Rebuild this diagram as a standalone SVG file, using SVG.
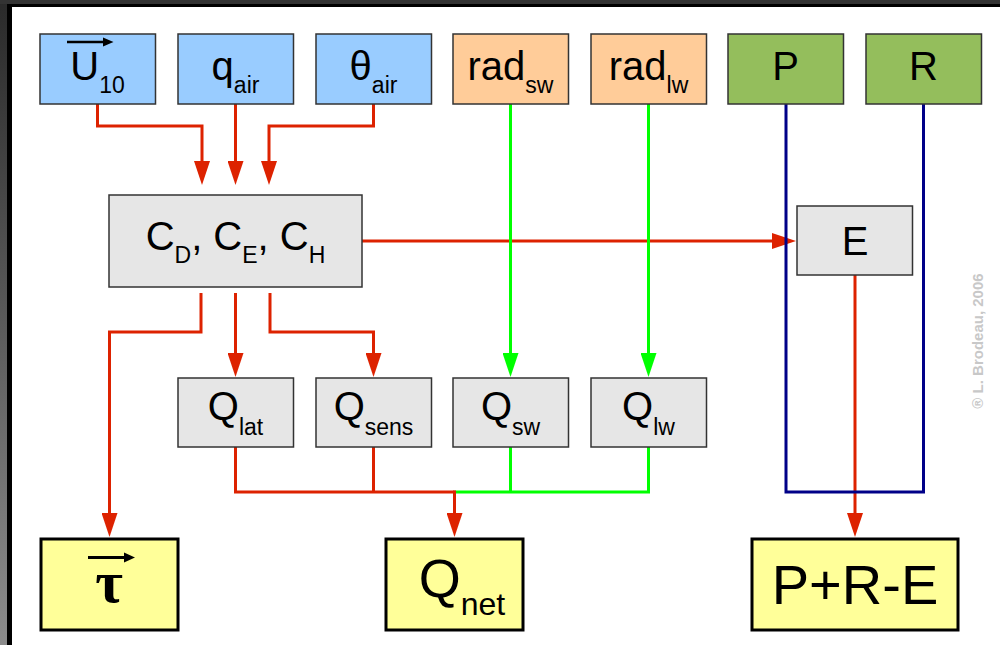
<svg xmlns="http://www.w3.org/2000/svg" width="1000" height="645" viewBox="0 0 1000 645">
<defs>
<linearGradient id="lg" x1="0" y1="0" x2="0" y2="1">
<stop offset="0" stop-color="#2a2a2a"/>
<stop offset="1" stop-color="#8c8c8c"/>
</linearGradient>
<marker id="ar" markerWidth="24" markerHeight="16" refX="4" refY="8" orient="auto" markerUnits="userSpaceOnUse"><path d="M0,0 L24,8 L0,16 z" fill="#dd2200"/></marker>
<marker id="ag" markerWidth="24" markerHeight="16" refX="4" refY="8" orient="auto" markerUnits="userSpaceOnUse"><path d="M0,0 L24,8 L0,16 z" fill="#00ff00"/></marker>
<style>
.t{font-family:"Liberation Sans",Arial,Helvetica,sans-serif;fill:#000;text-anchor:middle;font-size:40px}
.s{font-size:23px}
.box{stroke:#333;stroke-width:1.5}
.in{fill:#99ccff}
.rad{fill:#ffcc99}
.pr{fill:#94be5c}
.gr{fill:#e6e6e6}
.out{fill:#ffff99;stroke:#000;stroke-width:3}
.r{fill:none;stroke:#dd2200;stroke-width:3}
.g{fill:none;stroke:#00ff00;stroke-width:3}
.b{fill:none;stroke:#000088;stroke-width:3}
</style>
</defs>
<rect x="0" y="0" width="1000" height="645" fill="#fff"/>
<rect x="0" y="0" width="7" height="645" fill="url(#lg)"/>
<rect x="7" y="0" width="5" height="645" fill="#000"/>
<rect x="0" y="0" width="1000" height="4" fill="#333"/>
<rect x="7" y="4" width="993" height="3" fill="#000"/>

<g id="connectors">
<path class="r" d="M97.5,104 V126 H202 V165" marker-end="url(#ar)"/>
<path class="r" d="M235.5,104 V165" marker-end="url(#ar)"/>
<path class="r" d="M373.5,104 V126 H269 V165" marker-end="url(#ar)"/>
<path class="r" d="M362,241 H776" marker-end="url(#ar)"/>
<path class="r" d="M201,293 V332 H109.5 V517" marker-end="url(#ar)"/>
<path class="r" d="M235.5,293 V357" marker-end="url(#ar)"/>
<path class="r" d="M270,293 V332 H373.5 V357" marker-end="url(#ar)"/>
<path class="r" d="M235.5,447 V492 H454.5"/>
<path class="r" d="M373.5,447 V492"/>
<path class="g" d="M510.5,447 V492"/>
<path class="g" d="M648.5,447 V492 H454.5"/>
<path class="r" d="M454.5,490.5 V517" marker-end="url(#ar)"/>
<path class="r" d="M855,275 V517" marker-end="url(#ar)"/>
<path class="b" d="M786,104 V492 H923.5 V104"/>
<path class="g" d="M510.5,104 V357" marker-end="url(#ag)"/>
<path class="g" d="M648.5,104 V357" marker-end="url(#ag)"/>
</g>

<g id="n-u10">
<rect class="box in" x="40" y="34" width="115.5" height="70"/>
<path d="M67,42 H105" stroke="#000" stroke-width="2.5"/>
<path d="M103,37.5 L113.5,42 L103,46.5 z" fill="#000"/>
<text class="t" x="97.5" y="80">U<tspan class="s" dy="13">10</tspan></text>
</g>
<g id="n-qair">
<rect class="box in" x="178" y="34" width="115.5" height="70"/>
<text class="t" x="235.5" y="80">q<tspan class="s" dy="13">air</tspan></text>
</g>
<g id="n-thair">
<rect class="box in" x="316" y="34" width="115.5" height="70"/>
<text class="t" x="373.5" y="80">θ<tspan class="s" dy="13">air</tspan></text>
</g>
<g id="n-radsw">
<rect class="box rad" x="453" y="34" width="115.5" height="70"/>
<text class="t" x="510.5" y="80">rad<tspan class="s" dy="13">sw</tspan></text>
</g>
<g id="n-radlw">
<rect class="box rad" x="591" y="34" width="115.5" height="70"/>
<text class="t" x="648.5" y="80">rad<tspan class="s" dy="13">lw</tspan></text>
</g>
<g id="n-p">
<rect class="box pr" x="728" y="34" width="115.5" height="70"/>
<text class="t" x="785.5" y="80">P</text>
</g>
<g id="n-r">
<rect class="box pr" x="866" y="34" width="115.5" height="70"/>
<text class="t" x="923.5" y="80">R</text>
</g>

<g id="n-coef">
<rect class="box gr" x="109" y="195" width="253" height="92"/>
<text class="t" x="235.5" y="250">C<tspan class="s" dy="13">D</tspan><tspan dy="-13">, C</tspan><tspan class="s" dy="13">E</tspan><tspan dy="-13">, C</tspan><tspan class="s" dy="13">H</tspan></text>
</g>
<g id="n-e">
<rect class="box gr" x="797" y="206" width="115.5" height="69"/>
<text class="t" x="855" y="255">E</text>
</g>

<g id="n-qlat">
<rect class="box gr" x="178" y="378" width="115.5" height="69"/>
<text class="t" x="235.5" y="420">Q<tspan class="s" dy="15">lat</tspan></text>
</g>
<g id="n-qsens">
<rect class="box gr" x="316" y="378" width="115.5" height="69"/>
<text class="t" x="373.5" y="420">Q<tspan class="s" dy="15">sens</tspan></text>
</g>
<g id="n-qsw">
<rect class="box gr" x="453" y="378" width="115.5" height="69"/>
<text class="t" x="510.5" y="420">Q<tspan class="s" dy="15">sw</tspan></text>
</g>
<g id="n-qlw">
<rect class="box gr" x="591" y="378" width="115.5" height="69"/>
<text class="t" x="648.5" y="420">Q<tspan class="s" dy="15">lw</tspan></text>
</g>

<g id="n-tau">
<rect class="out" x="41" y="539" width="137" height="91"/>
<path d="M88,557.5 H126" stroke="#000" stroke-width="3"/>
<path d="M124,552.5 L135,557.5 L124,562.5 z" fill="#000"/>
<text x="109" y="602" text-anchor="middle" style="font-family:'Liberation Serif','Times New Roman',serif;font-size:60px;font-weight:bold">τ</text>
</g>
<g id="n-qnet">
<rect class="out" x="386" y="539" width="137" height="91"/>
<text class="t" x="462" y="597" style="font-size:54px">Q<tspan dy="18" style="font-size:32px">net</tspan></text>
</g>
<g id="n-pre">
<rect class="out" x="752" y="539" width="206" height="91"/>
<text class="t" x="855" y="604" style="font-size:56px">P+R-E</text>
</g>

<text transform="translate(983,341) rotate(-90)" x="0" y="0" text-anchor="middle" style="font-family:'Liberation Sans',Arial,sans-serif;font-size:15px;font-weight:bold;fill:#c8c8c8">® L. Brodeau, 2006</text>
</svg>
